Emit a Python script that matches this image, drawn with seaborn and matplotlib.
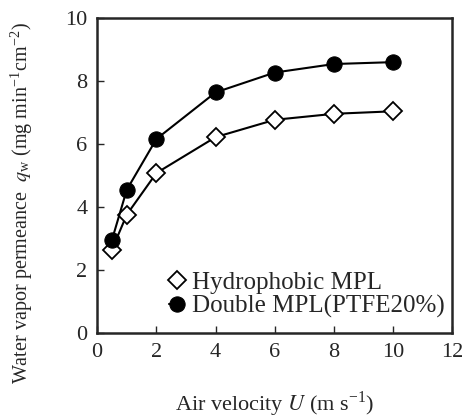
import pandas as pd
import seaborn as sns
import matplotlib.pyplot as plt

# data
air_velocity = [0.5, 1, 2, 4, 6, 8, 10]
hydrophobic_mpl = [2.65, 3.76, 5.08, 6.22, 6.77, 6.96, 7.04]
double_mpl = [2.96, 4.55, 6.16, 7.64, 8.27, 8.54, 8.60]

df = pd.DataFrame({'U': air_velocity, 'Hydrophobic MPL': hydrophobic_mpl,
                   'Double MPL(PTFE20%)': double_mpl})

sns.set_style('ticks')
plt.rcParams['font.family'] = ['Liberation Serif', 'DejaVu Serif']
plt.rcParams['mathtext.fontset'] = 'stix'

fig = plt.figure(figsize=(4.65, 4.19), dpi=100)
ax = fig.add_axes([0.209, 0.205, 0.764, 0.752])

sns.lineplot(data=df, x='U', y='Hydrophobic MPL', ax=ax, color='black', lw=1.5,
             marker='D', markersize=9, markerfacecolor='white', markeredgecolor='black',
             markeredgewidth=1.3, label='Hydrophobic MPL')
sns.lineplot(data=df, x='U', y='Double MPL(PTFE20%)', ax=ax, color='black', lw=1.5,
             marker='o', markersize=11, markerfacecolor='black', markeredgecolor='black',
             label='Double MPL(PTFE20%)')

ax.set_xlim(0, 12)
ax.set_ylim(0, 10)
ax.set_xticks(range(0, 13, 2))
ax.set_yticks(range(0, 11, 2))
ax.tick_params(direction='in', length=5, width=1, labelsize=16, pad=7)
for s in ax.spines.values():
    s.set_linewidth(1.8)

ax.set_xlabel('Air velocity $U$ (m s$^{\\mathregular{-1}}$)', fontsize=16, labelpad=20)
ax.set_ylabel('Water vapor permeance  $q_{\\mathregular{w}}$ (mg min$^{\\mathregular{-1}}$cm$^{\\mathregular{-2}}$)',
              fontsize=14.5)
ax.yaxis.set_label_coords(-0.175, 0.413)

ax.legend(loc='lower right', bbox_to_anchor=(1.02, 0.0), frameon=False, fontsize=18,
          handlelength=0.6, handletextpad=0.3, borderaxespad=0.2, labelspacing=0.05)

fig.savefig('out.png', dpi=100)
